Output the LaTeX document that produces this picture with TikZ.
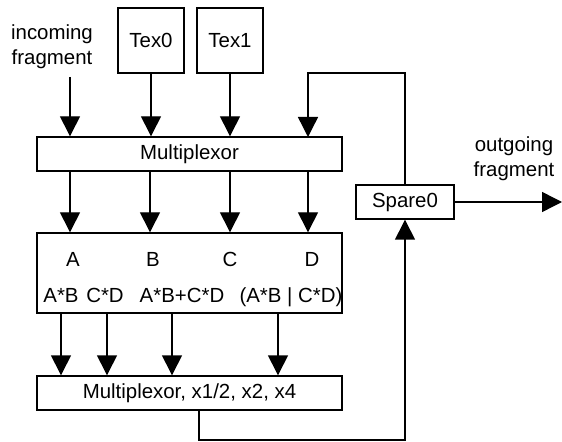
\documentclass[tikz,border=0pt]{standalone}
\usepackage{fontspec}
\setmainfont{Liberation Sans}
\usetikzlibrary{arrows.meta}

\tikzset{
    box/.style={draw, line width=1.4bp, inner sep=0pt},
    flow/.style={line width=1.4bp, -{Triangle[length=20bp,width=20bp]}},
    lbl/.style={inner sep=0pt, align=center}
}

\begin{document}
\begin{tikzpicture}[x=1bp, y=-1bp, font=\fontsize{20.5}{25}\selectfont]
    \useasboundingbox (0,0) rectangle (562,442);

    % Inputs on top:
    \node[lbl] (incoming) at (52,47) {incoming\\fragment};
    \coordinate (inc) at (70,77);
    \node[box, minimum width=66bp, minimum height=65bp] (tex0) at (151,40.5) {Tex0};
    \node[box, minimum width=66bp, minimum height=65bp] (tex1) at (230,40.5) {Tex1};

    % The three big boxes:
    \node[box, minimum width=305bp, minimum height=34bp] (mux) at (189.5,154) {Multiplexor};
    \node[box, minimum width=305bp, minimum height=80bp] (comb) at (189.5,273) {};
    \node[box, minimum width=305bp, minimum height=34bp] (scale) at (189.5,393) {Multiplexor, x1/2, x2, x4};

    % Spare register and the output:
    \node[box, minimum width=98bp, minimum height=34bp] (spare) at (405,202) {Spare0};
    \node[lbl] (outgoing) at (514,159) {outgoing\\fragment};
    \coordinate (out) at (562,202);

    % Labels inside the combiner:
    \node[anchor=base, inner sep=0pt] (a) at (73,267) {A};
    \node[anchor=base, inner sep=0pt] (b) at (153,267) {B};
    \node[anchor=base, inner sep=0pt] (c) at (230,267) {C};
    \node[anchor=base, inner sep=0pt] (d) at (312,267) {D};
    \node[anchor=base, inner sep=0pt] (ab) at (61,302) {A*B};
    \node[anchor=base, inner sep=0pt] (cd) at (105,302) {C*D};
    \node[anchor=base, inner sep=0pt] (sum) at (182,302) {A*B+C*D};
    \node[anchor=base, inner sep=0pt] (or) at (291,302) {(A*B | C*D)};

    % Arrows into the top multiplexor:
    \draw[flow] (inc) -- (inc |- mux.north);
    \draw[flow] (tex0.south) -- (tex0 |- mux.north);
    \draw[flow] (tex1.south) -- (tex1 |- mux.north);
    \draw[flow] (spare.north) |- (308,73) -- (308,137);

    % Multiplexor to combiner:
    \foreach \n in {70,150,230,308}{%
        \draw[flow] (mux.south -| \n,0) -- (comb.north -| \n,0);
    }

    % Combiner to the scaling multiplexor:
    \foreach \n in {61,107,172,278}{%
        \draw[flow] (comb.south -| \n,0) -- (scale.north -| \n,0);
    }

    % Back round to the spare register, and out:
    \draw[flow] (scale.south -| 199,0) -- (199,440) -| (spare.south);
    \draw[flow] (spare.east) -- (out);
\end{tikzpicture}
\end{document}
